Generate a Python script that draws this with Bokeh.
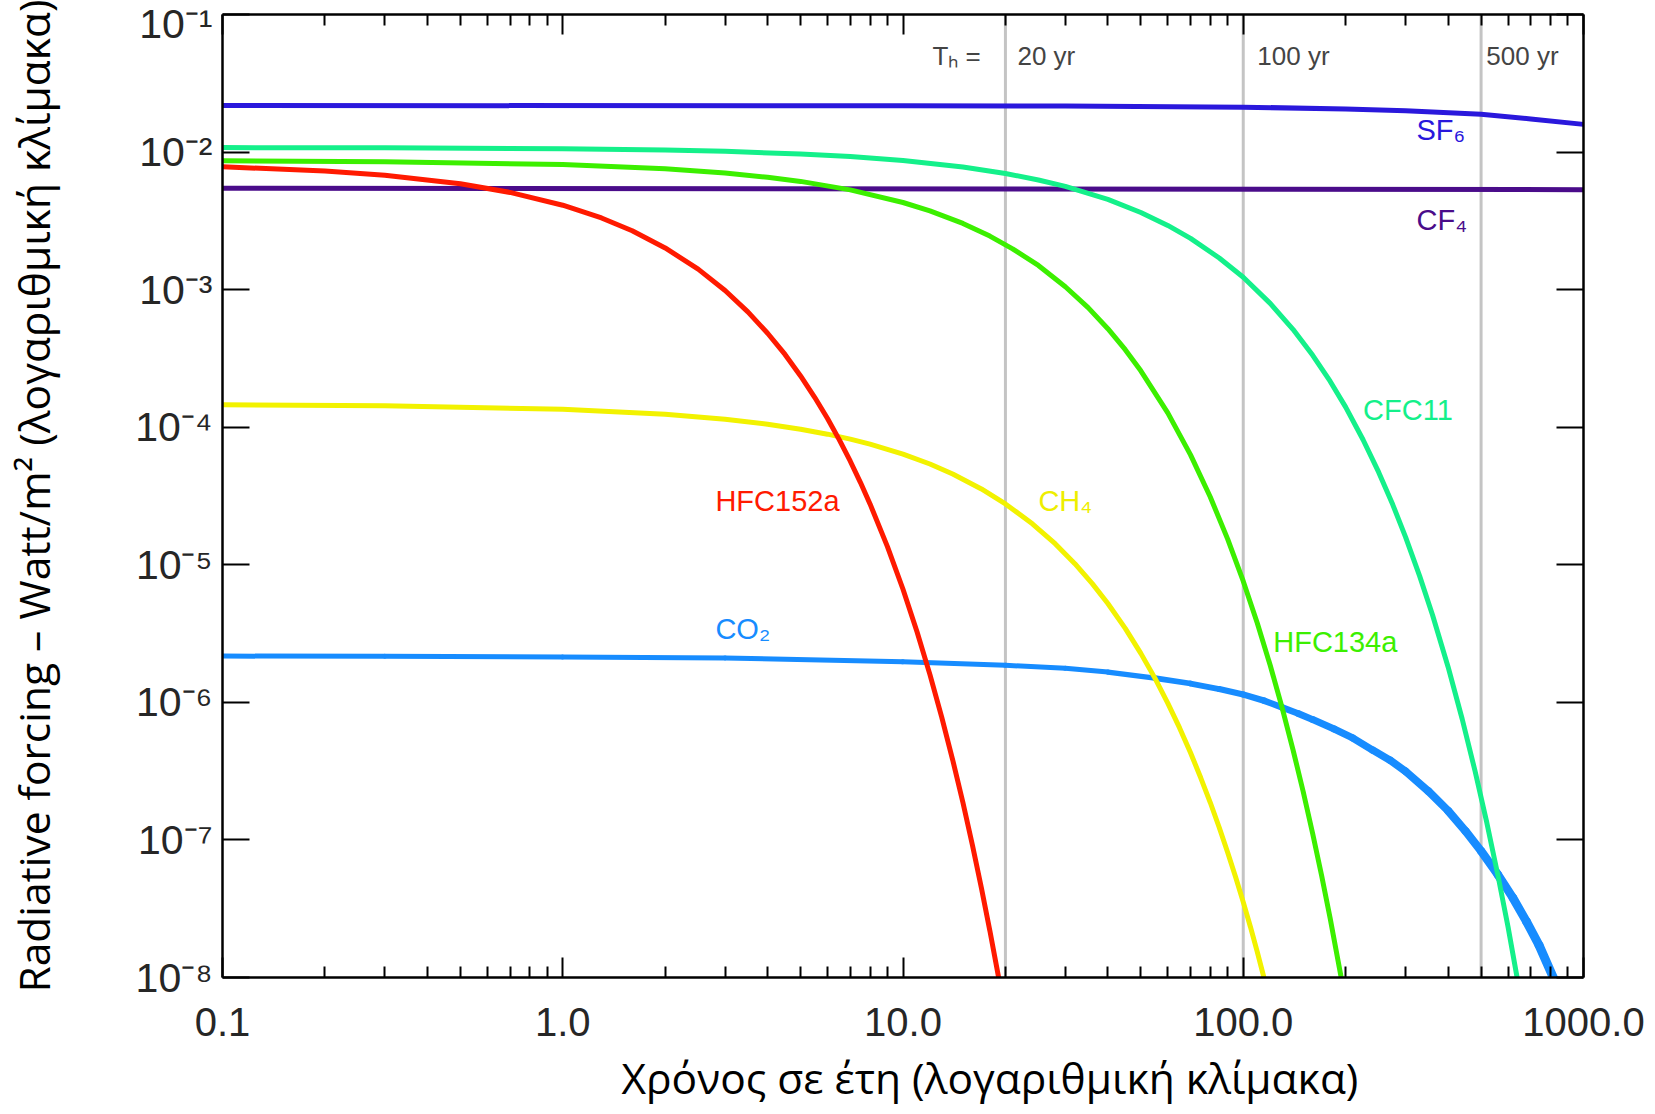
import numpy as np
from bokeh.plotting import figure
from bokeh.models import LogAxis, FixedTicker, CustomJSTickFormatter, Title
from bokeh.core.properties import value
from bokeh.embed import file_html
from bokeh.resources import INLINE

# ---------------- data ----------------
sf6_t = [0.1, 10, 30, 100, 200, 300, 500, 700, 1000]
sf6_rf = [0.0218, 0.0217, 0.0216, 0.0212, 0.0206, 0.0200, 0.0188, 0.0174, 0.0159]

cf4_t = [0.1, 1000]
cf4_rf = [0.00545, 0.00533]

cfc11_t = [0.1, 0.3, 1, 2, 3, 5, 7, 10, 15, 20, 25, 30, 40, 50, 60, 70, 85, 100, 120, 140, 160, 180,
           200, 225, 250, 275, 300, 330, 360, 400, 440, 480, 520, 560, 600, 638]
cfc11_rf = [1.078e-2, 1.073e-2, 1.057e-2, 1.034e-2, 1.012e-2, 9.69e-3, 9.27e-3, 8.69e-3, 7.79e-3, 6.99e-3,
            6.27e-3, 5.63e-3, 4.53e-3, 3.64e-3, 2.93e-3, 2.36e-3, 1.70e-3, 1.23e-3, 7.95e-4, 5.15e-4,
            3.33e-4, 2.16e-4, 1.40e-4, 8.11e-5, 4.71e-5, 2.74e-5, 1.59e-5, 8.27e-6, 4.31e-6, 1.81e-6,
            7.57e-7, 3.17e-7, 1.33e-7, 5.57e-8, 2.34e-8, 1.0e-8]

hfc134a_t = [0.1, 0.3, 1, 2, 3, 4, 5, 7, 10, 12, 15, 18, 21, 25, 30, 35, 40, 45, 50, 60, 70, 80, 90,
             100, 110, 120, 130, 140, 150, 160, 170, 180, 194]
hfc134a_rf = [8.64e-3, 8.52e-3, 8.11e-3, 7.56e-3, 7.04e-3, 6.56e-3, 6.12e-3, 5.31e-3, 4.30e-3, 3.74e-3,
              3.03e-3, 2.45e-3, 1.98e-3, 1.50e-3, 1.05e-3, 7.40e-4, 5.20e-4, 3.66e-4, 2.57e-4, 1.272e-4,
              6.29e-5, 3.11e-5, 1.537e-5, 7.60e-6, 3.76e-6, 1.86e-6, 9.19e-7, 4.54e-7, 2.25e-7, 1.11e-7,
              5.49e-8, 2.71e-8, 1.0e-8]

ch4_t = [0.1, 0.3, 1, 2, 3, 4, 5, 6, 7, 8, 10, 12, 14, 17, 20, 24, 28, 32, 36, 40, 45, 50, 55, 60,
         65, 70, 75, 80, 85, 90, 95, 100, 105, 110, 115]
ch4_rf = [1.455e-4, 1.431e-4, 1.350e-4, 1.242e-4, 1.142e-4, 1.051e-4, 9.67e-5, 8.90e-5, 8.19e-5, 7.53e-5,
          6.38e-5, 5.40e-5, 4.57e-5, 3.56e-5, 2.77e-5, 1.985e-5, 1.423e-5, 1.019e-5, 7.30e-6, 5.23e-6,
          3.45e-6, 2.27e-6, 1.50e-6, 9.88e-7, 6.52e-7, 4.30e-7, 2.83e-7, 1.87e-7, 1.231e-7, 8.11e-8,
          5.35e-8, 3.53e-8, 2.33e-8, 1.53e-8, 1.0e-8]

hfc152a_t = [0.1, 0.2, 0.3, 0.5, 0.7, 1.0, 1.3, 1.6, 2.0, 2.5, 3.0, 3.5, 4.0, 4.5, 5, 5.5, 6, 6.5, 7,
             7.5, 8, 9, 10, 11, 12, 13, 14, 15, 16, 17, 18, 19.1]
hfc152a_rf = [7.82e-3, 7.28e-3, 6.78e-3, 5.88e-3, 5.09e-3, 4.11e-3, 3.32e-3, 2.68e-3, 2.01e-3, 1.41e-3,
              9.86e-4, 6.89e-4, 4.82e-4, 3.38e-4, 2.36e-4, 1.65e-4, 1.156e-4, 8.09e-5, 5.66e-5, 3.96e-5,
              2.77e-5, 1.356e-5, 6.64e-6, 3.25e-6, 1.59e-6, 7.78e-7, 3.81e-7, 1.87e-7, 9.14e-8, 4.47e-8,
              2.19e-8, 1.0e-8]

co2_t = [0.1, 0.3, 1, 3, 10, 20, 30, 40, 55, 70, 85, 100, 115, 130, 145, 160, 185, 210, 240, 270,
         300, 350, 400, 450, 500, 560, 620, 680, 740, 815]
co2_rf = [2.17e-6, 2.16e-6, 2.14e-6, 2.10e-6, 1.97e-6, 1.86e-6, 1.77e-6, 1.66e-6, 1.50e-6, 1.37e-6,
          1.25e-6, 1.14e-6, 1.03e-6, 9.2e-7, 8.3e-7, 7.5e-7, 6.4e-7, 5.5e-7, 4.5e-7, 3.8e-7,
          3.15e-7, 2.26e-7, 1.63e-7, 1.16e-7, 8.3e-8, 5.6e-8, 3.8e-8, 2.55e-8, 1.72e-8, 1.0e-8]

time_horizons = [20, 100, 500]
time_horizon_labels = ["20 yr", "100 yr", "500 yr"]

x_ticks = [0.1, 1, 10, 100, 1000]
y_ticks = [1e-8, 1e-7, 1e-6, 1e-5, 1e-4, 1e-3, 1e-2, 1e-1]

gas_names = ["SF₆", "CF₄", "CFC11", "HFC134a", "CH₄", "HFC152a", "CO₂"]

Y_TITLE = "Radiative forcing – Watt/m² (λογαριθμική κλίμακα)"
X_TITLE = "Χρόνος σε έτη (λογαριθμική κλίμακα)"

# ---------------- styling ----------------
C_SF6 = "#2a18dc"
C_CF4 = "#4a0c8a"
C_CFC11 = "#14f08a"
C_134 = "#3cef00"
C_CH4 = "#f2f200"
C_152 = "#ff1a00"
C_CO2 = "#178cff"

p = figure(width=1655, height=1114, x_axis_type="log", y_axis_type="log",
           x_range=(0.1, 1000), y_range=(1e-8, 1e-1),
           output_backend="svg", toolbar_location=None,
           min_border_left=222, min_border_right=72, min_border_top=14, min_border_bottom=137)
p.grid.visible = False
p.outline_line_color = None
p.background_fill_color = "white"
p.border_fill_color = "white"

x_minor = [m * 10.0 ** k for k in range(-1, 3) for m in range(2, 10)]
xt = FixedTicker(ticks=x_ticks, minor_ticks=x_minor)
yt = FixedTicker(ticks=y_ticks, minor_ticks=[])

sup_js = """
const sup = {"-":"⁻","0":"⁰","1":"¹","2":"²","3":"³","4":"⁴","5":"⁵","6":"⁶","7":"⁷","8":"⁸","9":"⁹"};
const e = Math.round(Math.log10(tick));
return "10" + String(e).split("").map(c => sup[c]).join("");
"""
yfmt = CustomJSTickFormatter(code=sup_js)
xfmt = CustomJSTickFormatter(code="return tick.toFixed(1);")
blank = CustomJSTickFormatter(code="return '';")

TICK_FONT = "Liberation Sans"
TITLE_FONT = "Open Sans"

def style_axis(ax, horizontal):
    ax.axis_line_color = "black"
    ax.axis_line_width = 2.5
    ax.major_tick_line_color = "black"
    ax.major_tick_line_width = 2
    ax.minor_tick_line_color = "black"
    ax.minor_tick_line_width = 2
    ax.major_tick_out = 0
    ax.minor_tick_out = 0
    if horizontal:
        ax.major_tick_in = 20
        ax.minor_tick_in = 11
    else:
        ax.major_tick_in = 27
        ax.minor_tick_in = 0
    ax.major_label_text_font = TICK_FONT
    ax.major_label_text_color = "#262626"

xb = p.xaxis[0]
xb.ticker = xt
xb.formatter = xfmt
style_axis(xb, True)
xb.major_label_text_font_size = "40px"
xb.major_label_standoff = 30

yl = p.yaxis[0]
yl.ticker = yt
yl.formatter = yfmt
style_axis(yl, False)
yl.major_label_text_font_size = "41px"
yl.major_label_standoff = 10
yl.axis_label = Y_TITLE
yl.axis_label_text_font = TITLE_FONT
yl.axis_label_text_font_size = "42.5px"
yl.axis_label_text_font_style = "normal"
yl.axis_label_text_color = "black"
yl.axis_label_standoff = 70

xtop = LogAxis(ticker=xt, formatter=blank, major_label_text_font_size="1px", major_label_standoff=0)
style_axis(xtop, True)
p.add_layout(xtop, "above")

yright = LogAxis(ticker=yt, formatter=blank, major_label_text_font_size="1px", major_label_standoff=0)
style_axis(yright, False)
p.add_layout(yright, "right")

# time-horizon reference lines
p.segment(x0=time_horizons, y0=[1e-8] * 3, x1=time_horizons, y1=[1e-1] * 3,
          line_color="#c4c4c4", line_width=3)

# curves
p.line(sf6_t, sf6_rf, line_color=C_SF6, line_width=5)
p.line(cf4_t, cf4_rf, line_color=C_CF4, line_width=5)

co2_mid = np.sqrt(np.array(co2_t[:-1]) * np.array(co2_t[1:]))
co2_w = np.interp(np.log10(co2_mid), [1.6, 2.9], [5.0, 9.0])
p.segment(x0=co2_t[:-1], y0=co2_rf[:-1], x1=co2_t[1:], y1=co2_rf[1:],
          line_color=C_CO2, line_width=co2_w, line_cap="round")

p.line(ch4_t, ch4_rf, line_color=C_CH4, line_width=5)
p.line(hfc152a_t, hfc152a_rf, line_color=C_152, line_width=5)
p.line(hfc134a_t, hfc134a_rf, line_color=C_134, line_width=5)
p.line(cfc11_t, cfc11_rf, line_color=C_CFC11, line_width=5)

# curve labels (left edges / vertical centres in data units)
lab_x = [323, 323, 225, 122.5, 25.0, 2.81, 2.81]
lab_y = [0.01455, 0.00319, 1.34e-4, 2.75e-6, 2.9e-5, 2.91e-5, 3.39e-6]
lab_c = [C_SF6, C_CF4, C_CFC11, C_134, "#eeee00", C_152, C_CO2]
p.text(x=lab_x, y=lab_y, text=gas_names, text_color=lab_c,
       text_font=value(TICK_FONT), text_font_size="29px",
       text_align="left", text_baseline="middle")

# time-horizon labels
p.text(x=[12.2], y=[0.0497], text=["Tₕ ="], text_color="#444444",
       text_font=value(TICK_FONT), text_font_size="26px", text_align="left", text_baseline="middle")
p.text(x=[21.7, 110, 518], y=[0.0497] * 3, text=time_horizon_labels, text_color="#444444",
       text_font=value(TICK_FONT), text_font_size="26px", text_align="left", text_baseline="middle")

# x title
xtitle = Title(text=X_TITLE, align="left", offset=399,
               text_font=TITLE_FONT, text_font_size="42.5px", text_font_style="normal",
               text_color="black", standoff=16)
p.add_layout(xtitle, "below")

open("out.html", "w").write(file_html(p, INLINE))
